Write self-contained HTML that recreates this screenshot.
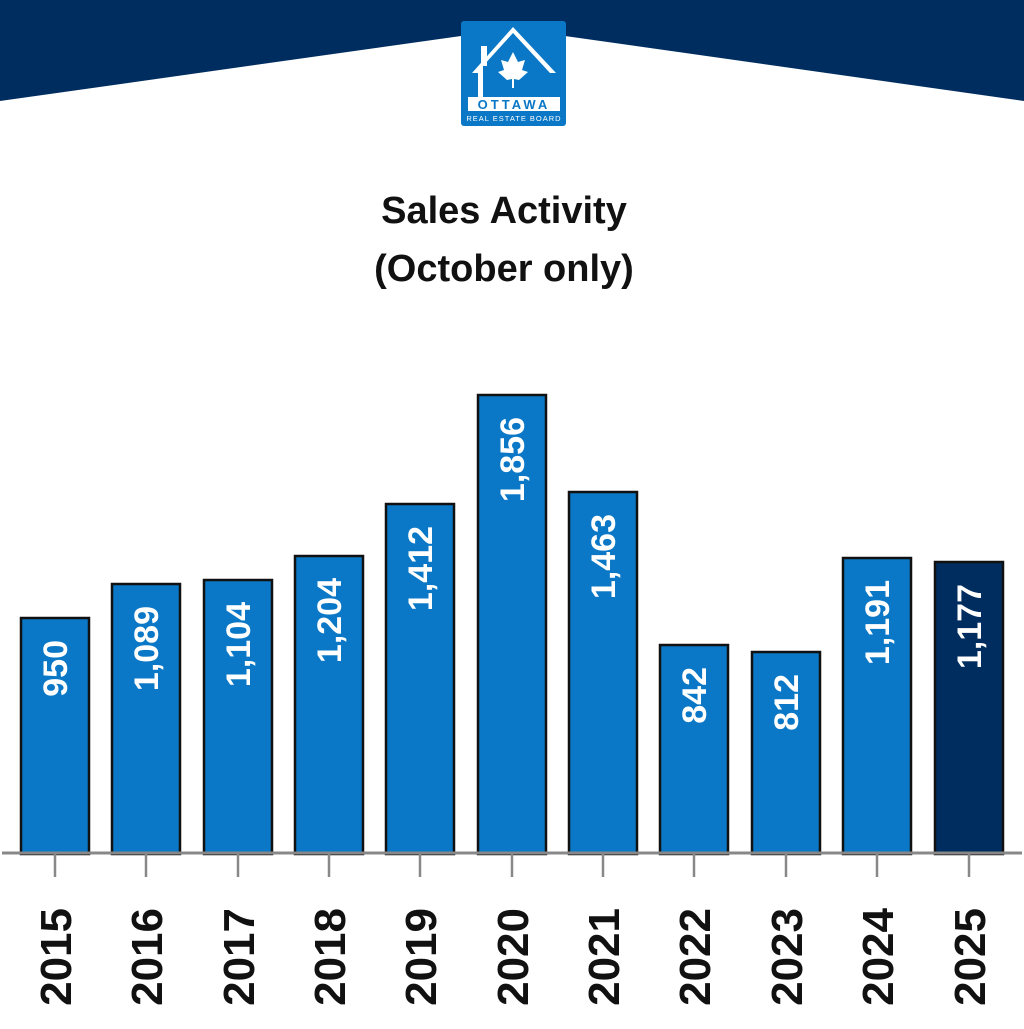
<!DOCTYPE html>
<html><head><style>body{margin:0;background:#fff}</style></head><body>
<svg width="1024" height="1024" viewBox="0 0 1024 1024" xmlns="http://www.w3.org/2000/svg" font-family="Liberation Sans, sans-serif">
<polygon points="0,0 1024,0 1024,101 565,36 461,36 0,101" fill="#002d5f"/>
<rect x="461" y="21" width="105" height="105" rx="3" fill="#0a78c6"/>
<polygon points="472,73 513,27 556,73 550,73 513,33 483,66 483,102 478,102 478,73" fill="#fff"/>
<rect x="481" y="46" width="6" height="20" fill="#fff"/>
<polygon points="513,52 518,62 525,60 522,70 528,72 519,80 514,79 514,88 512,88 512,79 507,80 498,72 504,70 501,60 508,62" fill="#fff"/>
<rect x="468" y="97" width="92" height="14" fill="#fff"/>
<text x="514" y="109" font-size="13" font-weight="bold" fill="#0a78c6" text-anchor="middle" letter-spacing="3">OTTAWA</text>
<text x="514" y="121" font-size="7.5" fill="#fff" text-anchor="middle" letter-spacing="1">REAL ESTATE BOARD</text>
<text x="504" y="223" font-size="38" font-weight="bold" fill="#111" text-anchor="middle">Sales Activity</text>
<text x="504" y="281" font-size="38" font-weight="bold" fill="#111" text-anchor="middle">(October only)</text>
<g stroke="#111" stroke-width="2.5">
<rect x="21" y="618" width="68" height="236" fill="#0a78c6"/>
<rect x="112" y="584" width="68" height="270" fill="#0a78c6"/>
<rect x="204" y="580" width="68" height="274" fill="#0a78c6"/>
<rect x="295" y="556" width="68" height="298" fill="#0a78c6"/>
<rect x="386" y="504" width="68" height="350" fill="#0a78c6"/>
<rect x="478" y="395" width="68" height="459" fill="#0a78c6"/>
<rect x="569" y="492" width="68" height="362" fill="#0a78c6"/>
<rect x="660" y="645" width="68" height="209" fill="#0a78c6"/>
<rect x="752" y="652" width="68" height="202" fill="#0a78c6"/>
<rect x="843" y="558" width="68" height="296" fill="#0a78c6"/>
<rect x="935" y="562" width="68" height="292" fill="#002d5f"/>
</g>
<line x1="2" y1="853" x2="1022" y2="853" stroke="#888" stroke-width="3"/>
<g stroke="#888" stroke-width="2.5">
<line x1="55" y1="854" x2="55" y2="877"/><line x1="146" y1="854" x2="146" y2="877"/><line x1="238" y1="854" x2="238" y2="877"/><line x1="329" y1="854" x2="329" y2="877"/><line x1="420" y1="854" x2="420" y2="877"/><line x1="512" y1="854" x2="512" y2="877"/><line x1="603" y1="854" x2="603" y2="877"/><line x1="694" y1="854" x2="694" y2="877"/><line x1="786" y1="854" x2="786" y2="877"/><line x1="877" y1="854" x2="877" y2="877"/><line x1="969" y1="854" x2="969" y2="877"/>
</g>
<g fill="#fff" font-size="34" text-anchor="end" font-weight="bold">
<text transform="translate(67,640) rotate(-90)">950</text>
<text transform="translate(158,606) rotate(-90)">1,089</text>
<text transform="translate(250,602) rotate(-90)">1,104</text>
<text transform="translate(341,578) rotate(-90)">1,204</text>
<text transform="translate(432,526) rotate(-90)">1,412</text>
<text transform="translate(524,417) rotate(-90)">1,856</text>
<text transform="translate(615,514) rotate(-90)">1,463</text>
<text transform="translate(706,667) rotate(-90)">842</text>
<text transform="translate(798,674) rotate(-90)">812</text>
<text transform="translate(889,580) rotate(-90)">1,191</text>
<text transform="translate(981,584) rotate(-90)">1,177</text>
</g>
<g fill="#111" font-size="44" font-weight="bold" text-anchor="end">
<text transform="translate(71,908) rotate(-90)">2015</text>
<text transform="translate(162,908) rotate(-90)">2016</text>
<text transform="translate(254,908) rotate(-90)">2017</text>
<text transform="translate(345,908) rotate(-90)">2018</text>
<text transform="translate(436,908) rotate(-90)">2019</text>
<text transform="translate(528,908) rotate(-90)">2020</text>
<text transform="translate(619,908) rotate(-90)">2021</text>
<text transform="translate(710,908) rotate(-90)">2022</text>
<text transform="translate(802,908) rotate(-90)">2023</text>
<text transform="translate(893,908) rotate(-90)">2024</text>
<text transform="translate(985,908) rotate(-90)">2025</text>
</g>
</svg>
</body></html>
